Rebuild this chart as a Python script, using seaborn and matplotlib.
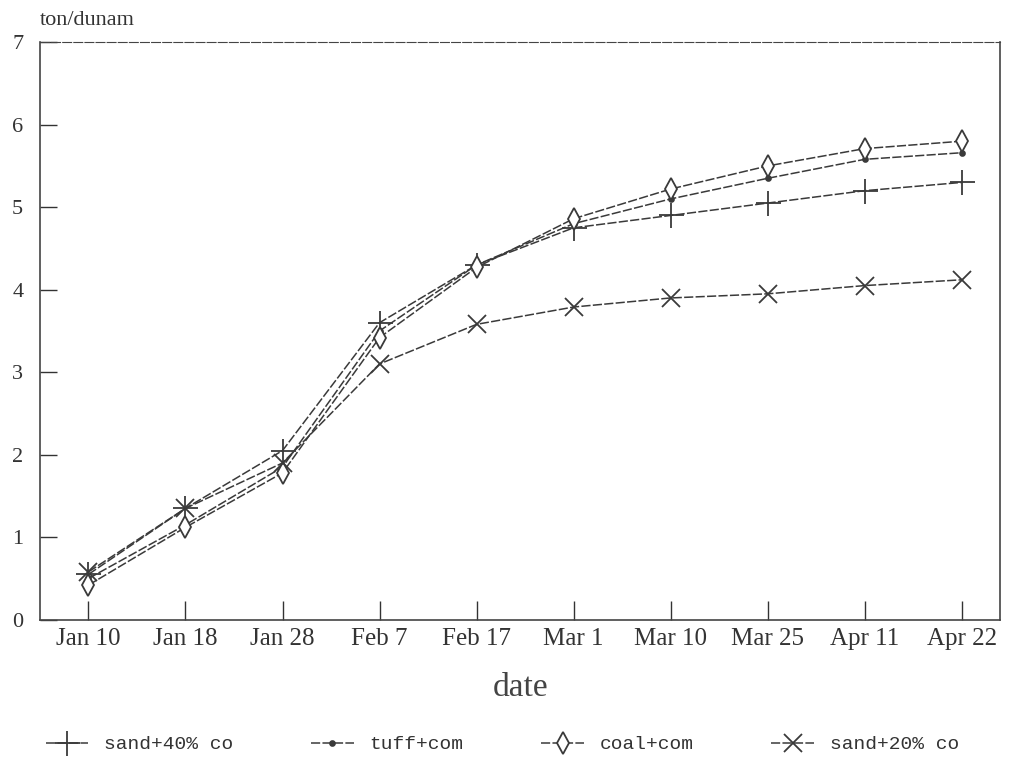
import numpy as np
import matplotlib
matplotlib.use("Agg")
import matplotlib.pyplot as plt
import pandas as pd
import seaborn as sns

sns.set_style("white")
plt.rcParams['font.family'] = ['Liberation Serif', 'DejaVu Serif']

dates = ["Jan 10", "Jan 18", "Jan 28", "Feb 7", "Feb 17",
         "Mar 1", "Mar 10", "Mar 25", "Apr 11", "Apr 22"]

sand40 = [0.55, 1.35, 2.05, 3.6, 4.3, 4.75, 4.9, 5.05, 5.2, 5.3]
tuff = [0.5, 1.15, 1.85, 3.5, 4.3, 4.8, 5.1, 5.35, 5.58, 5.66]
coal = [0.42, 1.12, 1.78, 3.42, 4.27, 4.86, 5.22, 5.5, 5.71, 5.8]
sand20 = [0.58, 1.35, 1.9, 3.1, 3.58, 3.79, 3.9, 3.95, 4.05, 4.12]

series_names = ["sand+40% co", "tuff+com", "coal+com", "sand+20% co"]
series_vals = [sand40, tuff, coal, sand20]
markers = ["+", ".", "d", "x"]
msizes = [18, 7, 11, 13]
col = "#3a3a3a"

fig = plt.figure(figsize=(10.25, 7.67), dpi=100)
ax = fig.add_axes([0.039, 0.192, 0.937, 0.753])

for name, vals, mk, ms in zip(series_names, series_vals, markers, msizes):
    df = pd.DataFrame({"date": dates, "val": vals})
    sns.lineplot(data=df, x="date", y="val", sort=False, ax=ax, color=col,
                 linewidth=1.1, linestyle=(0, (6, 1.5)), marker=mk,
                 markersize=ms, markeredgewidth=1.3, markeredgecolor=col,
                 markerfacecolor="white" if mk == "d" else col, label=name)

ax.set_xlim(-0.5, 9.4)
ax.set_ylim(0, 7)
ax.set_yticks(range(0, 8))
ax.set_xlabel("date", fontsize=24, color="#444444", labelpad=16)
ax.set_ylabel("")
ax.tick_params(axis="x", direction="in", length=14, width=1, labelsize=18,
               colors="#333333", pad=6, bottom=True)
ax.tick_params(axis="y", direction="in", length=12, width=1, labelsize=16,
               colors="#333333", pad=12, left=True)
for s in ax.spines.values():
    s.set_color("#444444")
    s.set_linewidth(1.2)
ax.spines["top"].set_linestyle((0, (8, 2)))
ax.spines["top"].set_linewidth(0.8)

fig.text(0.039, 0.968, "ton/dunam", fontsize=16, color="#333333", ha="left")

ax.get_legend().remove()
h, l = ax.get_legend_handles_labels()
fig.legend(h, l, loc="lower center", ncol=4, frameon=False,
           bbox_to_anchor=(0.49, -0.005), handlelength=2.2,
           columnspacing=4.0, prop={"family": "Liberation Mono", "size": 14},
           labelcolor="#333333")

fig.savefig("out.png", dpi=100, facecolor="white")
